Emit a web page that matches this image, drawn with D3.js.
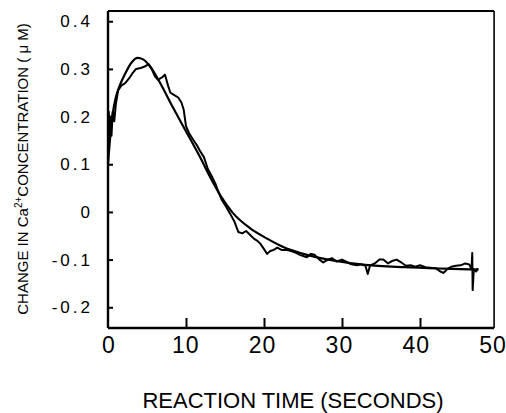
<!DOCTYPE html>
<html>
<head>
<meta charset="utf-8">
<script src="https://cdn.jsdelivr.net/npm/d3@7"></script>
<style>
  html, body { margin: 0; padding: 0; background: #fff; }
  svg { display: block; }
  text { font-family: "Liberation Sans", Arial, sans-serif; fill: #000; }
</style>
</head>
<body>
<svg id="chart" width="506" height="413"></svg>
<script>
// ---- data ----
const xTicks = [0, 10, 20, 30, 40, 50];
const yTicks = [0.4, 0.3, 0.2, 0.1, 0, -0.1, -0.2];
const yTickLabels = ["0.4", "0.3", "0.2", "0.1", "0", "-0.1", "-0.2"];

// fitted (smooth) curve
const fitTime = [0, 0.3, 0.6, 1.0, 1.5, 2.2, 3.0, 3.8, 4.5, 5.4, 6.7, 8.3, 10.1, 11.8, 13.1, 14.4, 16.0, 18.2, 20.4, 22.4, 25.5, 29, 33, 38, 43, 47.5];
const fitValue = [0.10, 0.16, 0.205, 0.24, 0.265, 0.29, 0.313, 0.323, 0.32, 0.305, 0.27, 0.22, 0.166, 0.115, 0.073, 0.035, -0.002, -0.034, -0.056, -0.073, -0.09, -0.102, -0.111, -0.116, -0.119, -0.121];

// measured (noisy) trace
const traceTime = [0.0, 0.1, 0.2, 0.3, 0.45, 0.6, 0.8, 1.0, 1.3, 1.7, 2.2, 2.7, 3.1, 3.6, 4.2, 4.7, 5.2, 5.6, 6.0, 6.4, 6.9, 7.3, 7.7, 8.0, 8.5, 9.0, 9.4, 9.7, 10.0, 10.4, 10.9, 11.4, 11.8, 12.3, 12.8, 13.3, 13.8, 14.2, 14.6, 15.1, 15.6, 16.2, 16.7, 17.2, 17.7, 18.2, 18.7, 19.1, 19.5, 20.0, 20.4, 20.8, 21.2, 21.7, 22.3, 22.9, 23.5, 24.1, 24.6, 25.1, 25.5, 26.0, 26.5, 27.1, 27.6, 28.2, 28.7, 29.3, 30.0, 30.6, 31.2, 31.9, 32.5, 33.0, 33.3, 33.6, 34.2, 34.8, 35.3, 35.9, 36.4, 37.0, 37.6, 38.2, 38.8, 39.4, 40.0, 40.7, 41.3, 42.0, 42.6, 43.0, 43.5, 44.0, 44.6, 45.2, 45.8, 46.3, 46.6, 46.7, 46.75, 46.9, 47.2, 47.4];
const traceValue = [0.17, 0.21, 0.15, 0.20, 0.16, 0.21, 0.19, 0.225, 0.255, 0.265, 0.27, 0.28, 0.29, 0.30, 0.302, 0.305, 0.31, 0.30, 0.285, 0.277, 0.282, 0.288, 0.265, 0.25, 0.245, 0.24, 0.23, 0.215, 0.18, 0.165, 0.152, 0.14, 0.128, 0.115, 0.09, 0.075, 0.058, 0.04, 0.025, 0.012, -0.002, -0.02, -0.042, -0.045, -0.04, -0.048, -0.056, -0.06, -0.066, -0.078, -0.088, -0.082, -0.08, -0.075, -0.08, -0.08, -0.082, -0.086, -0.09, -0.093, -0.095, -0.088, -0.09, -0.1, -0.106, -0.1, -0.097, -0.104, -0.1, -0.105, -0.11, -0.112, -0.11, -0.113, -0.13, -0.112, -0.108, -0.1, -0.1, -0.108, -0.103, -0.1, -0.106, -0.113, -0.112, -0.115, -0.112, -0.116, -0.117, -0.118, -0.125, -0.128, -0.12, -0.115, -0.113, -0.112, -0.108, -0.11, -0.12, -0.086, -0.164, -0.12, -0.125, -0.118];

const xLabel = "REACTION TIME (SECONDS)";

// ---- layout ----
const svg = d3.select("#chart");
const x = d3.scaleLinear().domain([0, 50]).range([108, 498]);
const y = d3.scaleLinear().domain([-0.2435, 0.4215]).range([328, 11]);
const xEnd = 49.5;

// frame
const frame = svg.append("g");
frame.append("line").attr("x1", x(0)).attr("x2", x(xEnd)).attr("y1", y.range()[1]).attr("y2", y.range()[1]).attr("stroke", "#000").attr("stroke-width", 2);
frame.append("line").attr("x1", x(xEnd)).attr("x2", x(xEnd)).attr("y1", y.range()[1]).attr("y2", y.range()[0]).attr("stroke", "#000").attr("stroke-width", 1.6);

// axes with inward ticks
const xAxis = d3.axisBottom(x).tickValues(xTicks.filter(d => d > 0 && d < 50)).tickSize(-10).tickFormat("");
const gx = svg.append("g").attr("transform", `translate(0,${y.range()[0]})`).call(xAxis);
gx.select(".domain").attr("d", `M${x(0)},0H${x(xEnd)}`).attr("stroke-width", 2.4);
gx.selectAll(".tick line").attr("stroke-width", 2);

const yAxis = d3.axisLeft(y).tickValues(yTicks).tickSize(-5).tickFormat("");
const gy = svg.append("g").attr("transform", `translate(${x(0)},0)`).call(yAxis);
gy.select(".domain").attr("d", `M0,${y.range()[0]}V${y.range()[1]}`).attr("stroke-width", 2.4);
gy.selectAll(".tick line").attr("stroke-width", 2);

// tick labels
svg.append("g").selectAll("text").data(xTicks).join("text")
  .attr("x", d => x(d) + 1 - d * 0.12)
  .attr("y", 353)
  .attr("text-anchor", "middle")
  .style("font-size", "23px")
  .style("letter-spacing", "1px")
  .text(d => d);

svg.append("g").selectAll("text").data(yTicks).join("text")
  .attr("x", 93)
  .attr("y", d => y(d) + 6)
  .attr("text-anchor", "end")
  .style("font-size", "17px")
  .style("letter-spacing", "3px")
  .text((d, i) => yTickLabels[i]);

// axis titles
svg.append("text")
  .attr("x", 293).attr("y", 408)
  .attr("text-anchor", "middle")
  .attr("textLength", 301)
  .style("font-size", "22px")
  .text(xLabel);

const yt = svg.append("text")
  .attr("transform", "translate(28,169) rotate(-90)")
  .attr("text-anchor", "middle")
  .style("font-size", "15px");
yt.append("tspan").text("CHANGE IN Ca");
yt.append("tspan").attr("dy", -6).style("font-size", "10px").text("2+");
yt.append("tspan").attr("dy", 6).text("CONCENTRATION ( \u03BC M)");

// curves
const line = d3.line().x(d => x(d[0])).y(d => y(d[1]));
const fitData = fitTime.map((t, i) => [t, fitValue[i]]);
const traceData = traceTime.map((t, i) => [t, traceValue[i]]);

svg.append("path").datum(fitData)
  .attr("d", line.curve(d3.curveMonotoneX))
  .attr("fill", "none").attr("stroke", "#000").attr("stroke-width", 2.2);

svg.append("path").datum(traceData)
  .attr("d", d3.line().x(d => x(d[0])).y(d => y(d[1])))
  .attr("fill", "none").attr("stroke", "#000").attr("stroke-width", 2).attr("stroke-linejoin", "round");
</script>
</body>
</html>
